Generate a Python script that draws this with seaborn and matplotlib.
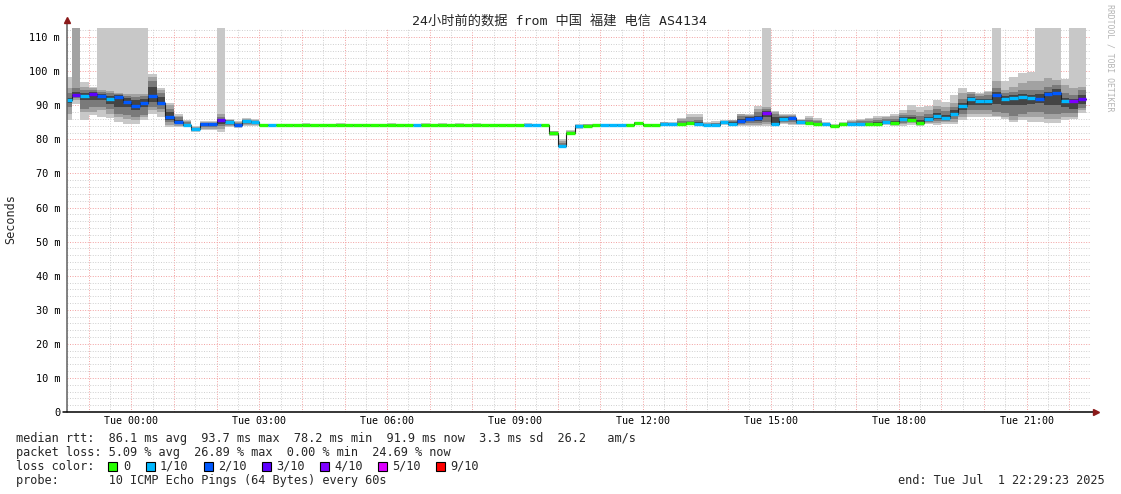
import numpy as np
import pandas as pd
import matplotlib
matplotlib.use("Agg")
import matplotlib.pyplot as plt
from matplotlib.patches import Rectangle
import seaborn as sns

# ---------------- data (12-minute bins, hours relative to Tue 00:00) ----------------
bin_start_hour = -1.6      # first bin starts Mon 22:24
bin_step_hours = 0.2       # 12 minutes
view_start_hour = -1.5103  # Mon 22:29:23
view_end_hour = 22.4897    # Tue 22:29:23

median = [91.5, 93.1, 92.7, 93.2, 92.6, 91.8, 92.4, 91.0, 89.7, 90.7,
          92.8, 90.8, 86.7, 85.1, 84.3, 83.0, 84.4, 84.4, 85.6, 85.1,
          84.2, 85.4, 85.1, 84.1, 84.1, 84.1, 84.1, 84.1, 84.1, 84.1,
          84.1, 84.1, 84.1, 84.1, 84.1, 84.1, 84.1, 84.1, 84.1, 84.1,
          84.1, 84.1, 84.1, 84.1, 84.1, 84.1, 84.1, 84.1, 84.1, 84.1,
          84.1, 84.1, 84.1, 84.1, 84.1, 84.1, 84.1, 82.0, 78.2, 81.8,
          84.0, 84.0, 84.1, 84.2, 84.2, 84.2, 84.2, 84.7, 84.2, 84.2,
          84.4, 84.4, 84.6, 84.7, 84.4, 84.3, 84.3, 85.0, 84.6, 85.3,
          86.0, 86.3, 87.7, 84.6, 86.0, 86.3, 85.1, 84.8, 84.5, 84.4,
          84.0, 84.4, 84.4, 84.5, 84.4, 84.5, 85.1, 84.7, 85.9, 85.7,
          84.7, 85.9, 86.9, 86.2, 87.4, 89.9, 91.8, 91.3, 91.4, 93.1,
          92.0, 92.3, 92.5, 92.3, 92.0, 93.3, 93.7, 91.4, 91.3, 91.9]

loss = [1, 3, 1, 3, 2, 1, 2, 2, 2, 2,
        2, 2, 2, 2, 1, 1, 2, 2, 3, 1,
        2, 1, 1, 0, 1, 0, 0, 0, 0, 0,
        0, 0, 0, 0, 0, 0, 0, 0, 0, 0,
        0, 1, 0, 0, 0, 0, 0, 0, 0, 0,
        0, 0, 0, 0, 1, 1, 0, 0, 1, 0,
        1, 0, 0, 1, 1, 1, 0, 0, 0, 0,
        1, 1, 0, 0, 1, 1, 1, 1, 1, 2,
        2, 2, 4, 1, 1, 2, 1, 0, 0, 1,
        0, 0, 1, 1, 0, 0, 1, 0, 1, 0,
        0, 1, 1, 1, 1, 1, 1, 1, 1, 2,
        1, 1, 1, 1, 2, 2, 2, 1, 4, 3]

ping_min = [85.7, 90.5, 85.7, 87.2, 86.5, 86.2, 85.2, 84.5, 84.5, 85.7,
            87.6, 86.7, 83.5, 83.6, 83.6, 82.2, 82.8, 82.8, 82.2, 83.5,
            83.4, 84.0, 83.8, 83.9, 83.9, 83.9, 83.9, 83.9, 83.9, 83.9,
            83.9, 83.9, 83.9, 83.9, 83.9, 83.9, 83.7, 83.9, 83.9, 83.9,
            83.9, 83.9, 83.9, 83.9, 83.9, 83.9, 83.9, 83.7, 83.9, 83.9,
            83.9, 83.9, 83.9, 83.9, 83.9, 83.9, 83.9, 81.0, 77.8, 81.5,
            83.2, 83.8, 83.9, 84.0, 84.0, 84.0, 84.0, 84.2, 84.0, 84.0,
            84.0, 84.0, 84.1, 84.2, 84.0, 84.0, 83.9, 84.2, 84.0, 84.0,
            84.0, 83.8, 84.0, 84.0, 84.5, 84.3, 84.2, 84.2, 84.1, 84.0,
            83.8, 84.0, 84.0, 84.0, 84.0, 84.0, 84.2, 84.0, 84.0, 84.3,
            84.0, 84.5, 84.2, 84.5, 84.5, 85.7, 86.7, 86.7, 86.7, 86.5,
            85.9, 85.2, 85.7, 85.2, 85.2, 84.7, 84.7, 85.7, 86.0, 87.7]

ping_2 = [87.5, 91.5, 88.0, 88.0, 88.6, 87.5, 86.5, 86.0, 85.7, 86.5,
          88.5, 88.0, 84.3, 84.0, 83.9, 82.4, 83.2, 83.1, 83.0, 84.0,
          83.6, 84.3, 84.2, 84.0, 84.0, 84.0, 84.0, 84.0, 84.0, 84.0,
          84.0, 84.0, 84.0, 84.0, 84.0, 84.0, 84.0, 84.0, 84.0, 84.0,
          84.0, 84.0, 84.0, 84.0, 84.0, 84.0, 84.0, 84.0, 84.0, 84.0,
          84.0, 84.0, 84.0, 84.0, 84.0, 84.0, 84.0, 81.3, 77.9, 81.6,
          83.5, 83.9, 84.0, 84.1, 84.1, 84.1, 84.1, 84.3, 84.1, 84.1,
          84.1, 84.1, 84.2, 84.3, 84.1, 84.1, 84.0, 84.4, 84.2, 84.2,
          84.3, 84.2, 84.5, 84.1, 84.8, 84.6, 84.4, 84.4, 84.2, 84.1,
          83.9, 84.1, 84.1, 84.1, 84.1, 84.1, 84.4, 84.2, 84.5, 84.7,
          84.3, 84.8, 84.7, 85.0, 85.2, 86.6, 87.6, 87.6, 87.6, 87.0,
          86.7, 85.7, 86.5, 86.7, 86.7, 86.0, 86.0, 86.7, 86.7, 88.5]

ping_3 = [89.5, 92.2, 89.0, 89.5, 89.5, 89.0, 87.6, 87.2, 86.5, 87.2,
          89.5, 89.0, 85.0, 84.4, 84.0, 82.6, 83.6, 83.5, 83.8, 84.3,
          83.8, 84.6, 84.5, 84.0, 84.0, 84.0, 84.0, 84.0, 84.0, 84.0,
          84.0, 84.0, 84.0, 84.0, 84.0, 84.0, 84.0, 84.0, 84.0, 84.0,
          84.0, 84.0, 84.0, 84.0, 84.0, 84.0, 84.0, 84.0, 84.0, 84.0,
          84.0, 84.0, 84.0, 84.0, 84.0, 84.0, 84.0, 81.5, 78.0, 81.7,
          83.7, 84.0, 84.0, 84.1, 84.1, 84.1, 84.1, 84.4, 84.1, 84.1,
          84.2, 84.2, 84.3, 84.4, 84.2, 84.2, 84.1, 84.6, 84.3, 84.5,
          84.7, 84.8, 85.2, 84.3, 85.2, 85.0, 84.6, 84.6, 84.3, 84.2,
          83.9, 84.2, 84.2, 84.3, 84.2, 84.2, 84.6, 84.4, 84.9, 85.0,
          84.4, 85.2, 85.3, 85.5, 86.0, 87.5, 88.6, 88.6, 88.6, 88.0,
          87.8, 87.0, 87.5, 88.0, 88.0, 87.5, 87.5, 87.8, 87.8, 89.2]

ping_4 = [90.8, 92.7, 91.5, 91.5, 91.5, 90.5, 89.5, 89.5, 88.5, 89.5,
          91.0, 90.0, 85.8, 84.7, 84.1, 82.8, 84.0, 84.0, 84.5, 84.7,
          84.0, 85.0, 84.8, 84.1, 84.1, 84.1, 84.1, 84.1, 84.1, 84.1,
          84.1, 84.1, 84.1, 84.1, 84.1, 84.1, 84.1, 84.1, 84.1, 84.1,
          84.1, 84.1, 84.1, 84.1, 84.1, 84.1, 84.1, 84.1, 84.1, 84.1,
          84.1, 84.1, 84.1, 84.1, 84.1, 84.1, 84.1, 81.8, 78.1, 81.7,
          83.9, 84.0, 84.1, 84.2, 84.2, 84.2, 84.2, 84.6, 84.2, 84.2,
          84.3, 84.3, 84.4, 84.5, 84.3, 84.2, 84.2, 84.8, 84.5, 85.0,
          85.3, 85.5, 86.5, 84.4, 85.6, 85.6, 84.9, 84.7, 84.4, 84.3,
          84.0, 84.3, 84.3, 84.4, 84.3, 84.4, 84.9, 84.6, 85.3, 85.4,
          84.5, 85.6, 86.0, 86.0, 86.8, 88.5, 90.0, 90.0, 90.0, 90.5,
          90.0, 90.0, 90.0, 90.5, 90.6, 90.0, 90.0, 89.5, 89.0, 90.5]

ping_7 = [92.3, 93.8, 93.5, 94.0, 93.3, 92.8, 92.9, 92.2, 91.5, 92.0,
          95.5, 92.5, 88.0, 85.8, 84.6, 83.2, 84.7, 84.7, 86.0, 85.4,
          84.5, 85.6, 85.3, 84.2, 84.2, 84.2, 84.2, 84.2, 84.2, 84.2,
          84.2, 84.2, 84.2, 84.2, 84.2, 84.2, 84.2, 84.2, 84.2, 84.2,
          84.2, 84.2, 84.2, 84.2, 84.2, 84.2, 84.2, 84.2, 84.2, 84.2,
          84.2, 84.2, 84.2, 84.2, 84.2, 84.2, 84.2, 82.2, 78.5, 82.0,
          84.1, 84.1, 84.2, 84.3, 84.3, 84.3, 84.3, 84.9, 84.3, 84.3,
          84.6, 84.6, 84.9, 85.0, 85.0, 84.5, 84.5, 85.2, 85.0, 86.0,
          86.7, 87.0, 88.3, 86.5, 86.5, 86.7, 85.4, 85.2, 84.8, 84.6,
          84.1, 84.6, 84.7, 84.9, 84.8, 85.0, 85.5, 85.3, 86.5, 86.5,
          85.8, 86.6, 87.8, 87.3, 88.5, 90.8, 92.5, 92.0, 92.0, 93.8,
          92.8, 93.0, 93.2, 93.0, 93.2, 94.0, 94.8, 92.2, 92.0, 93.0]

ping_8 = [93.5, 95.0, 94.5, 94.6, 94.0, 93.5, 93.2, 92.8, 92.5, 92.8,
          97.0, 93.5, 89.0, 86.5, 85.0, 83.4, 84.9, 84.9, 86.5, 85.6,
          84.7, 85.8, 85.5, 84.3, 84.3, 84.3, 84.3, 84.3, 84.3, 84.3,
          84.3, 84.3, 84.3, 84.3, 84.3, 84.3, 84.3, 84.3, 84.3, 84.3,
          84.3, 84.3, 84.3, 84.3, 84.3, 84.3, 84.3, 84.3, 84.3, 84.3,
          84.3, 84.3, 84.3, 84.3, 84.3, 84.3, 84.3, 82.3, 79.0, 82.3,
          84.2, 84.2, 84.3, 84.4, 84.4, 84.4, 84.4, 85.0, 84.4, 84.4,
          84.8, 84.7, 85.3, 85.5, 85.6, 84.6, 84.7, 85.4, 85.3, 86.8,
          87.0, 88.0, 89.0, 87.5, 87.0, 87.0, 85.6, 85.8, 85.3, 84.7,
          84.2, 84.8, 85.0, 85.3, 85.3, 85.6, 86.0, 86.0, 87.2, 87.2,
          86.8, 87.5, 88.8, 88.2, 89.6, 92.0, 93.4, 92.8, 93.0, 95.0,
          93.5, 93.8, 94.5, 94.5, 94.5, 95.5, 96.0, 93.5, 93.0, 94.5]

ping_9 = [95.0, 120.0, 95.5, 95.0, 94.4, 94.2, 93.5, 93.2, 93.3, 93.3,
          98.4, 94.5, 90.0, 87.0, 85.4, 83.6, 85.1, 85.0, 87.5, 85.8,
          85.0, 86.0, 85.7, 84.4, 84.4, 84.4, 84.4, 84.4, 84.6, 84.4,
          84.4, 84.4, 84.6, 84.4, 84.4, 84.4, 84.4, 84.4, 84.6, 84.4,
          84.4, 84.4, 84.6, 84.4, 84.6, 84.4, 84.6, 84.4, 84.6, 84.4,
          84.4, 84.4, 84.4, 84.4, 84.6, 84.4, 84.4, 82.4, 79.6, 82.5,
          84.3, 84.4, 84.4, 84.5, 84.5, 84.5, 84.5, 85.1, 84.5, 84.5,
          85.0, 84.9, 86.0, 86.5, 86.5, 84.8, 84.9, 85.5, 85.6, 87.4,
          87.3, 89.0, 89.5, 88.0, 87.3, 87.3, 85.8, 86.4, 85.8, 84.9,
          84.3, 84.9, 85.3, 85.7, 85.9, 86.3, 86.6, 86.8, 87.9, 88.5,
          88.0, 88.6, 89.8, 89.5, 90.8, 93.5, 93.8, 93.2, 93.8, 97.0,
          94.5, 95.5, 96.5, 97.0, 97.0, 98.0, 97.5, 96.0, 95.0, 95.5]

ping_max = [98.4, 120.0, 96.9, 95.4, 120.0, 120.0, 120.0, 120.0, 120.0, 120.0,
            99.1, 95.0, 90.6, 87.4, 85.7, 83.8, 85.4, 85.3, 120.0, 86.0,
            85.4, 86.3, 86.0, 84.5, 84.5, 84.5, 84.5, 84.5, 84.9, 84.5,
            84.5, 84.5, 84.9, 84.5, 84.5, 84.5, 84.5, 84.5, 84.9, 84.5,
            84.5, 84.5, 84.9, 84.5, 84.9, 84.5, 84.9, 84.5, 84.9, 84.5,
            84.5, 84.5, 84.5, 84.5, 84.9, 84.5, 84.5, 82.5, 80.0, 82.7,
            84.4, 84.6, 84.5, 84.6, 84.6, 84.6, 84.6, 85.2, 84.6, 84.6,
            85.2, 85.2, 86.2, 87.5, 87.5, 85.0, 85.3, 85.6, 85.8, 87.6,
            87.5, 89.7, 120.0, 88.3, 87.5, 87.5, 86.0, 86.8, 86.2, 85.0,
            84.4, 85.0, 85.6, 86.0, 86.3, 86.9, 87.0, 87.4, 88.6, 90.0,
            89.4, 89.8, 91.5, 91.0, 93.0, 95.0, 94.0, 93.5, 94.2, 120.0,
            97.2, 98.4, 99.5, 99.8, 120.0, 120.0, 120.0, 97.7, 120.0, 120.0]

loss_levels = [0, 1, 2, 3, 4, 5, 9]
loss_labels = ["0", "1/10", "2/10", "3/10", "4/10", "5/10", "9/10"]
loss_colors = ["#26ff00", "#00b8ff", "#0059ff", "#5e00ff", "#7e00ff", "#dd00ff", "#ff0000"]

xtick_hours = [0, 3, 6, 9, 12, 15, 18, 21]
xtick_labels = ["Tue 00:00", "Tue 03:00", "Tue 06:00", "Tue 09:00",
                "Tue 12:00", "Tue 15:00", "Tue 18:00", "Tue 21:00"]
ytick_values = [0, 10, 20, 30, 40, 50, 60, 70, 80, 90, 100, 110]
ytick_labels = ["0", "10 m", "20 m", "30 m", "40 m", "50 m", "60 m",
                "70 m", "80 m", "90 m", "100 m", "110 m"]

title = "24小时前的数据 from 中国 福建 电信 AS4134"
stat_lines = [
    "median rtt:  86.1 ms avg  93.7 ms max  78.2 ms min  91.9 ms now  3.3 ms sd  26.2   am/s",
    "packet loss: 5.09 % avg  26.89 % max  0.00 % min  24.69 % now",
    "loss color:",
    "probe:       10 ICMP Echo Pings (64 Bytes) every 60s",
]
end_text = "end: Tue Jul  1 22:29:23 2025"
credit = "RRDTOOL / TOBI OETIKER"

arrays = [median, loss, ping_min, ping_2, ping_3, ping_4, ping_7, ping_8, ping_9, ping_max]
for a in arrays:
    assert len(a) == 120, len(a)

# ---------------- drawing ----------------
sns.set_style("white")
plt.rcParams["font.family"] = ["DejaVu Sans Mono", "Noto Sans CJK SC"]

W, H = 1121, 494
fig = plt.figure(figsize=(W / 100, H / 100), dpi=100)
ax_left, ax_right, ax_bottom, ax_top = 67, 1090, 412, 28
ax = fig.add_axes([ax_left / W, (H - ax_bottom) / H,
                   (ax_right - ax_left) / W, (ax_bottom - ax_top) / H])

n = len(median)
edges = bin_start_hour + bin_step_hours * np.arange(n + 1)


def ext(a):
    a = np.asarray(a, dtype=float)
    return np.append(a, a[-1])


bands = [(ping_min, ping_max, "#c8c8c8"),
         (ping_2, ping_9, "#a2a2a2"),
         (ping_3, ping_8, "#7a7a7a"),
         (ping_4, ping_7, "#444444")]
for lo, hi, c in bands:
    ax.fill_between(edges, ext(lo), ext(hi), step="post", color=c,
                    linewidth=0, zorder=2)

df = pd.DataFrame({"hour": edges, "rtt": ext(median)})
sns.lineplot(data=df, x="hour", y="rtt", drawstyle="steps-post",
             color="#202020", linewidth=0.8, ax=ax, zorder=3)

cmap = dict(zip(loss_levels, loss_colors))
seg_colors = [cmap[l] for l in loss]
ax.hlines(median, edges[:-1], edges[1:], colors=seg_colors,
          linewidth=2.4, zorder=4, capstyle="butt")

ax.set_xlim(view_start_hour, view_end_hour)
ax.set_ylim(0, 112.7)

# grid
major_x = np.arange(-1, 23, 1.0)
minor_x = np.arange(-1.5, 22.5, 0.5)
ax.set_xticks(major_x)
ax.set_xticklabels(["" if h not in xtick_hours else xtick_labels[xtick_hours.index(int(h))]
                    for h in major_x])
ax.set_xticks(minor_x, minor=True)
ax.set_yticks(ytick_values)
ax.set_yticklabels(ytick_labels)
ax.set_yticks(np.arange(0, 113, 2), minor=True)

ax.grid(which="minor", color="#cfcfcf", linestyle=(0, (1, 1.6)), linewidth=0.7, zorder=0)
ax.grid(which="major", color="#f2a0a0", linestyle=(0, (1, 1.6)), linewidth=0.7, zorder=0)
ax.set_axisbelow(True)

ax.tick_params(axis="both", which="both", colors="#000000", direction="out")
ax.tick_params(axis="y", which="major", length=3, width=0.8, pad=2,
               color="#555555", labelsize=7.4)
ax.tick_params(axis="y", which="minor", length=2, width=0.6, color="#777777")
ax.tick_params(axis="x", which="major", length=2, width=0.8, pad=1,
               color="#ff6060", labelsize=7.2)
ax.tick_params(axis="x", which="minor", length=2, width=0.6, color="#999999")
ax.set_xlabel("")
ax.set_ylabel("")

for s in ax.spines.values():
    s.set_visible(False)

# axis lines with arrows
ax.plot([0, 0], [0, 1.02], transform=ax.transAxes, color="#606060",
        linewidth=1.1, clip_on=False, zorder=6)
ax.plot([-0.004, 1.004], [0, 0], transform=ax.transAxes, color="#000000",
        linewidth=1.1, clip_on=False, zorder=6)
ax.plot([0], [1.022], marker="^", markersize=4, color="#8b1a1a",
        transform=ax.transAxes, clip_on=False, zorder=7)
ax.plot([1.0055], [0], marker=">", markersize=4, color="#8b1a1a",
        transform=ax.transAxes, clip_on=False, zorder=7)

# texts
fig.text(560 / W, 1 - 21 / H, title, ha="center", va="center", fontsize=9.5)
fig.text(11 / W, 1 - 219 / H, "Seconds", rotation=90, ha="center",
         va="center", fontsize=8.5)
fig.text(1110 / W, 1 - 4 / H, credit, rotation=270, ha="center", va="top",
         fontsize=5.9, color="#b4b4b4")

line_y = [438, 452, 466, 480]
for txt, yy in zip(stat_lines, line_y):
    fig.text(16 / W, 1 - yy / H, txt, ha="left", va="center", fontsize=8.55)
fig.text(1105 / W, 1 - 480 / H, end_text, ha="right", va="center", fontsize=8.55)

sq_x = [108, 146, 204, 262, 320, 378, 436]
lab_x = [123, 160, 218, 276, 334, 392, 450]
for c, lab, sx, lx in zip(loss_colors, loss_labels, sq_x, lab_x):
    fig.add_artist(Rectangle((sx / W, 1 - 470.5 / H), 8.5 / W, 9 / H,
                             transform=fig.transFigure, facecolor=c,
                             edgecolor="#000000", linewidth=0.8))
    fig.text(lx / W, 1 - 466 / H, lab, ha="left", va="center", fontsize=8.55)

fig.savefig("out.png", dpi=100)
